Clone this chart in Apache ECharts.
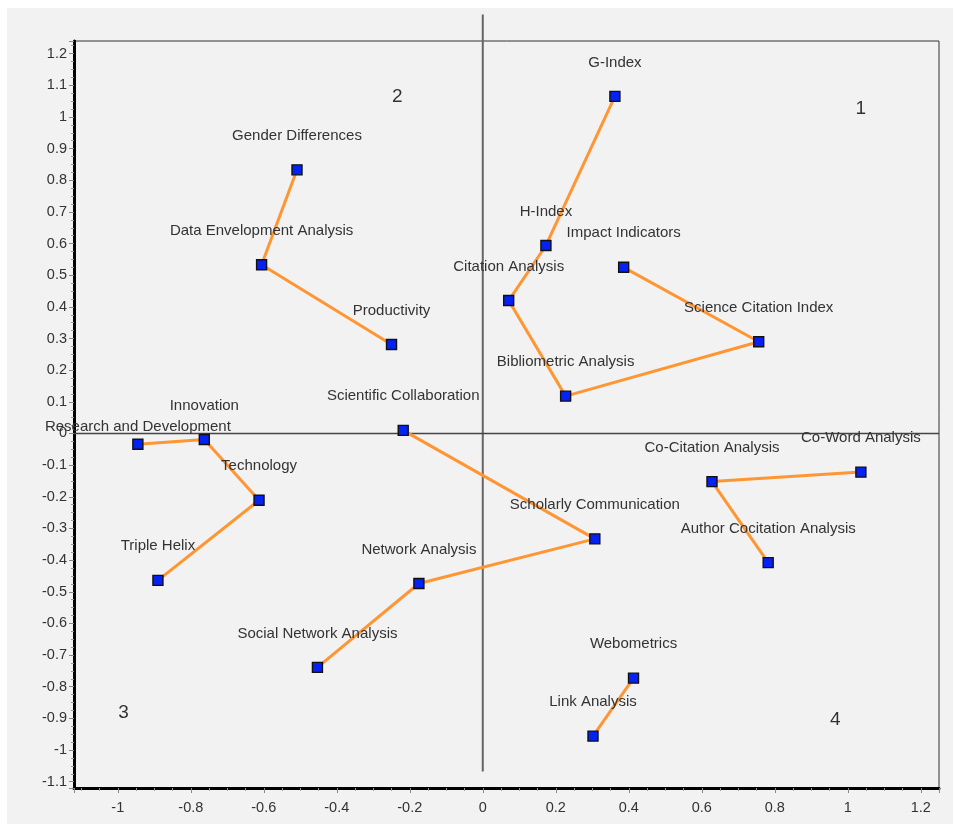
<!DOCTYPE html>
<html>
<head>
<meta charset="utf-8">
<script src="https://cdn.jsdelivr.net/npm/echarts@6/dist/echarts.min.js"></script>
<style>
html,body{margin:0;padding:0;background:#ffffff;}
#chart{position:absolute;left:7px;top:8px;width:946px;height:816px;}
</style>
</head>
<body>
<div id="chart"></div>
<script>
// ---- data ----
const cluster1Names = ['G-Index','H-Index','Citation Analysis','Bibliometric Analysis','Science Citation Index','Impact Indicators'];
const cluster1X = [0.362, 0.173, 0.071, 0.227, 0.756, 0.386];
const cluster1Y = [1.065, 0.594, 0.420, 0.118, 0.290, 0.525];

const cluster2Names = ['Gender Differences','Data Envelopment Analysis','Productivity'];
const cluster2X = [-0.509, -0.606, -0.250];
const cluster2Y = [0.833, 0.533, 0.281];

const cluster3Names = ['Research and Development','Innovation','Technology','Triple Helix'];
const cluster3X = [-0.945, -0.763, -0.613, -0.890];
const cluster3Y = [-0.034, -0.019, -0.211, -0.464];

const cluster4Names = ['Scientific Collaboration','Scholarly Communication','Network Analysis','Social Network Analysis'];
const cluster4X = [-0.218, 0.307, -0.175, -0.453];
const cluster4Y = [0.010, -0.333, -0.474, -0.739];

const cluster5Names = ['Co-Word Analysis','Co-Citation Analysis','Author Cocitation Analysis'];
const cluster5X = [1.036, 0.628, 0.782];
const cluster5Y = [-0.122, -0.152, -0.408];

const cluster6Names = ['Webometrics','Link Analysis'];
const cluster6X = [0.413, 0.302];
const cluster6Y = [-0.773, -0.956];

const quadrantLabels = ['1','2','3','4'];
const quadrantX = [1.036, -0.234, -0.984, 0.966];
const quadrantY = [1.027, 1.065, -0.882, -0.906];

const xRange = [-1.12, 1.25];
const yRange = [-1.12, 1.24];
const zeroLineV = [[0, 1.324], [0, -1.068]];
const zeroLineH = [[-1.12, 0], [1.25, 0]];

// ---- build ----
const clusters = [
  [cluster1Names, cluster1X, cluster1Y],
  [cluster2Names, cluster2X, cluster2Y],
  [cluster3Names, cluster3X, cluster3Y],
  [cluster4Names, cluster4X, cluster4Y],
  [cluster5Names, cluster5X, cluster5Y],
  [cluster6Names, cluster6X, cluster6Y]
];
const labelOffsetOverride = { 'Research and Development': [0, -17] };
const FONT = '"Liberation Sans", Arial, sans-serif';

const series = [];
series.push({
  type: 'line', data: zeroLineV, clip: false, symbol: 'none', silent: true, z: 1,
  lineStyle: { color: '#666666', width: 2 }
});
series.push({
  type: 'line', data: zeroLineH, clip: false, symbol: 'none', silent: true, z: 1,
  lineStyle: { color: '#444444', width: 1.5 }
});
clusters.forEach(function (c) {
  const names = c[0], xs = c[1], ys = c[2];
  series.push({
    type: 'line',
    z: 3,
    symbol: 'rect',
    symbolSize: 10,
    showSymbol: true,
    showAllSymbol: true,
    lineStyle: { color: '#ff9633', width: 3 },
    itemStyle: { color: '#0522f5', borderColor: '#111111', borderWidth: 1.4 },
    data: names.map(function (n, i) {
      return {
        name: n,
        value: [xs[i], ys[i]],
        label: { offset: labelOffsetOverride[n] || [0, -34] }
      };
    }),
    label: {
      show: true,
      position: 'inside',
      formatter: function (p) { return p.name; },
      color: '#333333',
      fontSize: 15,
      fontFamily: FONT
    }
  });
});
series.push({
  type: 'scatter',
  symbolSize: 1,
  itemStyle: { color: 'rgba(0,0,0,0)' },
  z: 2,
  data: quadrantLabels.map(function (t, i) { return { name: t, value: [quadrantX[i], quadrantY[i]] }; }),
  label: {
    show: true, position: 'inside', formatter: function (p) { return p.name; },
    color: '#000000', fontSize: 19, fontFamily: FONT
  }
});

const chart = echarts.init(document.getElementById('chart'), null, { renderer: 'canvas' });
chart.setOption({
  animation: false,
  backgroundColor: '#f2f2f2',
  grid: {
    left: 67, top: 33, width: 865, height: 747,
    show: true, borderColor: '#333333', borderWidth: 1, backgroundColor: 'transparent'
  },
  xAxis: {
    type: 'value', min: xRange[0], max: xRange[1], splitNumber: 12,
    axisLine: { show: true, onZero: false, lineStyle: { color: '#000000', width: 3 } },
    axisTick: { show: true, length: 5, lineStyle: { color: '#888888', width: 1 } },
    minorTick: { show: true, splitNumber: 4, length: 3, lineStyle: { color: '#999999', width: 1 } },
    splitLine: { show: false },
    axisLabel: { showMinLabel: false, showMaxLabel: false, color: '#333333', fontSize: 14.5, fontFamily: FONT, margin: 12 }
  },
  yAxis: {
    type: 'value', min: yRange[0], max: yRange[1], splitNumber: 24,
    axisLine: { show: true, onZero: false, lineStyle: { color: '#000000', width: 3 } },
    axisTick: { show: true, length: 5, lineStyle: { color: '#888888', width: 1 } },
    minorTick: { show: true, splitNumber: 4, length: 3, lineStyle: { color: '#999999', width: 1 } },
    splitLine: { show: false },
    axisLabel: { showMinLabel: false, showMaxLabel: false, color: '#333333', fontSize: 14.5, fontFamily: FONT, margin: 7 }
  },
  series: series
});
</script>
</body>
</html>
